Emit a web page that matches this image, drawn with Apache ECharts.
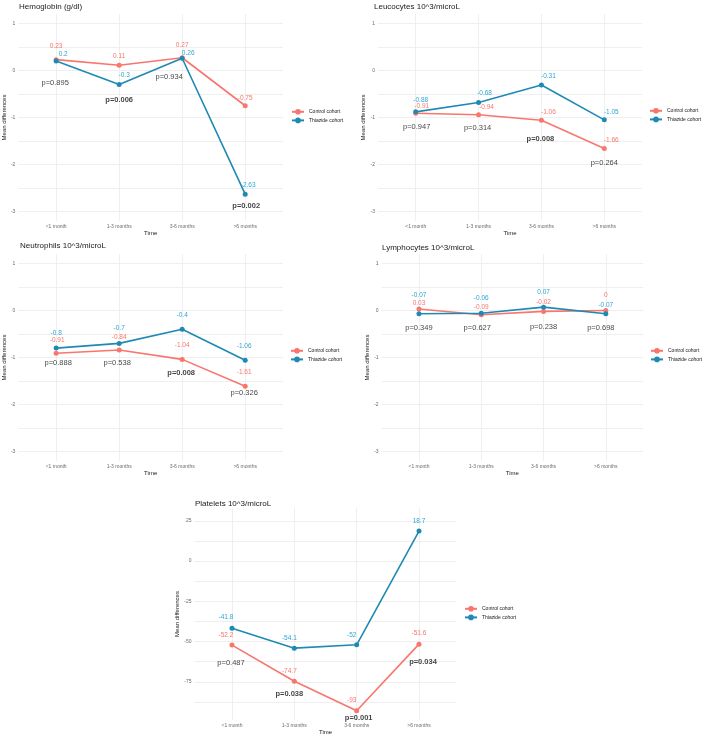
<!DOCTYPE html>
<html>
<head>
<meta charset="utf-8">
<script src="https://cdn.jsdelivr.net/npm/echarts@6/dist/echarts.min.js"></script>
<style>
  html, body { margin: 0; padding: 0; background: #fff; }
  #chart { width: 709px; height: 739px; }
</style>
</head>
<body>
<div id="chart"></div>
<script>
// categories
const timePoints = ["<1 month", "1-3 months", "3-6 months", ">6 months"];
const cohorts = ["Control cohort", "Thiazide cohort"];

// Hemoglobin (g/dl)
const hbControl = [0.23, 0.11, 0.27, -0.75];
const hbThiazide = [0.2, -0.3, 0.26, -2.63];
const hbP = [0.895, 0.006, 0.934, 0.002];

// Leucocytes
const leuControl = [-0.91, -0.94, -1.06, -1.66];
const leuThiazide = [-0.88, -0.68, -0.31, -1.05];
const leuP = [0.947, 0.314, 0.008, 0.264];

// Neutrophils
const neuControl = [-0.91, -0.84, -1.04, -1.61];
const neuThiazide = [-0.8, -0.7, -0.4, -1.06];
const neuP = [0.888, 0.538, 0.008, 0.326];

// Lymphocytes
const lymControl = [0.03, -0.09, -0.02, 0];
const lymThiazide = [-0.07, -0.06, 0.07, -0.07];
const lymP = [0.349, 0.627, 0.238, 0.698];

// Platelets
const pltControl = [-52.2, -74.7, -93, -51.6];
const pltThiazide = [-41.8, -54.1, -52, 18.7];
const pltP = [0.487, 0.038, 0.001, 0.034];

// y tick labels
const smallTicks = [-3, -2, -1, 0, 1];
const smallGrid = [-3, -2.5, -2, -1.5, -1, -0.5, 0, 0.5, 1];
const pltTicks = [-75, -50, -25, 0, 25];
const pltGrid = [-87.5, -75, -62.5, -50, -37.5, -25, -12.5, 0, 12.5, 25];

const CONTROL = "#F8766D";
const THIAZIDE = "#1E8AB4";
const CONTROL_TXT = "#F8766D";
const THIAZIDE_TXT = "#2FA6D4";
const FONT = "Liberation Sans, Arial, sans-serif";

// panel layout + label nudges (px)
const panels = [
  {
    title: "Hemoglobin (g/dl)", control: hbControl, thiazide: hbThiazide, p: hbP,
    grid: { left: 18, top: 14, width: 265, height: 207 }, yMin: -3.2, yMax: 1.2,
    ticks: smallTicks, lines: smallGrid, titlePos: [19, 3], legendPos: [291, 109],
    cOff: [[0, -13], [0, -9], [0, -13], [0, -8]],
    tOff: [[7, -7], [5, -9], [6, -5], [3, -9]],
    pOff: [[-1, 22], [0, 15], [-13, 19], [1, 12]]
  },
  {
    title: "Leucocytes 10^3/microL", control: leuControl, thiazide: leuThiazide, p: leuP,
    grid: { left: 378, top: 14, width: 264, height: 207 }, yMin: -3.2, yMax: 1.2,
    ticks: smallTicks, lines: smallGrid, titlePos: [374, 3], legendPos: [649, 108],
    cOff: [[6, -7], [8, -7], [7, -8], [7, -8]],
    tOff: [[5, -12], [6, -9], [7, -9], [7, -8]],
    pOff: [[1, 14], [-1, 13], [-1, 19], [0, 14]]
  },
  {
    title: "Neutrophils 10^3/microL", control: neuControl, thiazide: neuThiazide, p: neuP,
    grid: { left: 18, top: 254, width: 265, height: 207 }, yMin: -3.2, yMax: 1.2,
    ticks: smallTicks, lines: smallGrid, titlePos: [20, 242], legendPos: [290, 348],
    cOff: [[1, -13], [0, -13], [0, -14], [-1, -14]],
    tOff: [[0, -15], [0, -15], [0, -14], [-1, -14]],
    pOff: [[2, 10], [-2, 13], [-1, 14], [-1, 7]]
  },
  {
    title: "Lymphocytes 10^3/microL", control: lymControl, thiazide: lymThiazide, p: lymP,
    grid: { left: 381.6, top: 254, width: 261.6, height: 207 }, yMin: -3.2, yMax: 1.2,
    ticks: smallTicks, lines: smallGrid, titlePos: [382, 244], legendPos: [650, 348],
    cOff: [[0, -6], [0, -7], [0, -9], [0, -15]],
    tOff: [[0, -19], [0, -15], [0, -15], [0, -9]],
    pOff: [[0, 14], [-4, 13], [0, 16], [-5, 14]]
  },
  {
    title: "Platelets 10^3/microL", control: pltControl, thiazide: pltThiazide, p: pltP,
    grid: { left: 194.6, top: 508, width: 261.8, height: 212 }, yMin: -98.75, yMax: 33,
    ticks: pltTicks, lines: pltGrid, titlePos: [195, 500], legendPos: [464, 606],
    cOff: [[-6, -10], [-5, -10], [-5, -11], [0, -11]],
    tOff: [[-6, -11], [-5, -10], [-5, -10], [0, -10]],
    pOff: [[-1, 17.5], [-5, 12.5], [2, 7], [4, 18]]
  }
];

const option = {
  animation: false,
  backgroundColor: "#fff",
  textStyle: { fontFamily: FONT },
  title: [], legend: [], grid: [], xAxis: [], yAxis: [], series: []
};

panels.forEach((pn, i) => {
  option.title.push({
    text: pn.title, left: pn.titlePos[0], top: pn.titlePos[1], padding: 0,
    textStyle: { fontSize: 8, fontWeight: "normal", color: "#1a1a1a", fontFamily: FONT }
  });
  option.legend.push({
    data: cohorts, orient: "vertical", left: pn.legendPos[0], top: pn.legendPos[1],
    padding: 0, itemGap: 3, itemWidth: 12, itemHeight: 7,
    textStyle: { fontSize: 5, color: "#1a1a1a", fontFamily: FONT }
  });
  option.grid.push(pn.grid);
  option.xAxis.push({
    gridIndex: i, type: "value", min: 0.4, max: 4.6,
    name: "Time", nameLocation: "middle", nameGap: 9,
    nameTextStyle: { fontSize: 6, color: "#1a1a1a" },
    axisLine: { show: false },
    axisTick: { show: false, customValues: [1, 2, 3, 4] },
    axisLabel: {
      customValues: [1, 2, 3, 4], fontSize: 5, color: "#6b6b6b", margin: 3,
      formatter: (v) => timePoints[Math.round(v) - 1]
    },
    splitLine: { show: true, lineStyle: { color: "#EBEBEB", width: 0.8 } }
  });
  option.yAxis.push({
    gridIndex: i, type: "value", min: pn.yMin, max: pn.yMax,
    name: "Mean differences", nameLocation: "middle", nameGap: i === 4 ? 13 : 10,
    nameTextStyle: { fontSize: 6, color: "#1a1a1a" },
    axisLine: { show: false },
    axisTick: { show: false, customValues: pn.lines },
    axisLabel: { customValues: pn.ticks, fontSize: 5, color: "#6b6b6b", margin: 3 },
    splitLine: { show: true, lineStyle: { color: "#EBEBEB", width: 0.8 } }
  });

  const mk = (vals, offs) => vals.map((v, k) => ({
    value: [k + 1, v], label: { offset: offs[k] }
  }));
  [[cohorts[0], pn.control, pn.cOff, CONTROL, CONTROL_TXT],
   [cohorts[1], pn.thiazide, pn.tOff, THIAZIDE, THIAZIDE_TXT]].forEach(([name, vals, offs, col, txt]) => {
    option.series.push({
      name: name, type: "line", xAxisIndex: i, yAxisIndex: i,
      data: mk(vals, offs), symbol: "circle", symbolSize: 5,
      lineStyle: { color: col, width: 1.6 }, itemStyle: { color: col },
      label: {
        show: true, position: "inside", fontSize: 6.5, color: txt,
        formatter: (p) => String(p.value[1])
      },
      emphasis: { disabled: true }, z: name === cohorts[1] ? 3 : 2
    });
  });

  // p-values sit under the lower of the two cohort means
  option.series.push({
    type: "scatter", xAxisIndex: i, yAxisIndex: i, silent: true,
    symbolSize: 1, itemStyle: { color: "rgba(0,0,0,0)" },
    data: pn.p.map((pv, k) => ({
      value: [k + 1, Math.min(pn.control[k], pn.thiazide[k])],
      label: {
        offset: pn.pOff[k],
        fontWeight: pv < 0.05 ? "bold" : "normal"
      }
    })),
    label: {
      show: true, position: "inside", fontSize: 7.5, color: "#111",
      formatter: (p) => "p=" + pn.p[p.dataIndex].toFixed(3)
    },
    z: 4
  });
});

const chart = echarts.init(document.getElementById("chart"));
chart.setOption(option);
</script>
</body>
</html>
